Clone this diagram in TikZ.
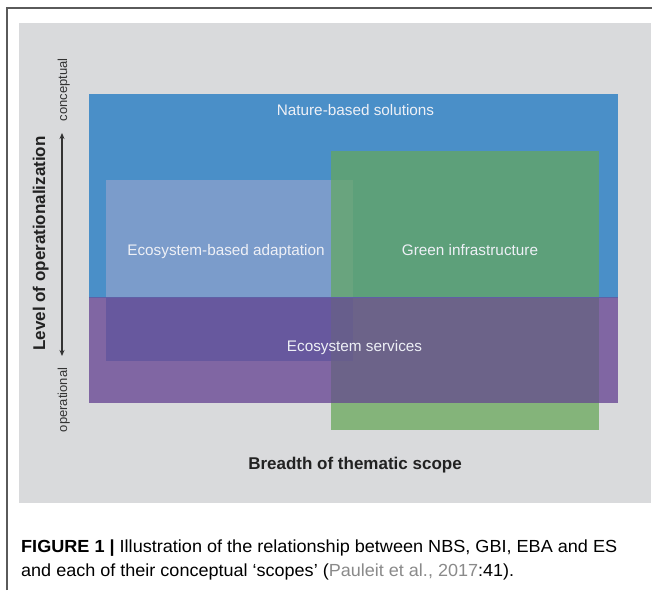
\documentclass[tikz,border=0pt]{standalone}
\usepackage{fontspec}
\setmainfont{Liberation Sans}
\usetikzlibrary{arrows.meta}
\definecolor{framecol}{HTML}{5A5A5A}
\definecolor{panel}{HTML}{D9DADC}
\definecolor{nbscol}{HTML}{4A8FC8}
\definecolor{escol}{HTML}{8066A3}
\definecolor{gigray}{HTML}{84B47A}
\definecolor{giblue}{HTML}{5DA07A}
\definecolor{gies}{HTML}{6C6389}
\definecolor{ebablue}{HTML}{7B9CCB}
\definecolor{ebagi}{HTML}{69A47E}
\definecolor{ebaes}{HTML}{67589E}
\definecolor{ebagies}{HTML}{675E8C}
\definecolor{seam}{HTML}{5F60A6}
\definecolor{labeltxt}{HTML}{EEF0F6}
\definecolor{axistxt}{HTML}{222222}
\definecolor{poletxt}{HTML}{333333}
\definecolor{citecol}{HTML}{8A8A8A}
\begin{document}
\begin{tikzpicture}[x=1pt,y=-1pt,
  lbl/.style={text=labeltxt, font=\fontsize{15.3}{18}\selectfont, inner sep=0, anchor=base},
  axislbl/.style={text=axistxt, font=\bfseries\fontsize{17}{20}\selectfont, inner sep=0, anchor=base},
  pole/.style={text=poletxt, font=\fontsize{13}{15}\selectfont, inner sep=0, anchor=base, rotate=90},
  capline/.style={inner sep=0, anchor=base west, text=black, font=\fontsize{17.5}{22}\selectfont},
  frameline/.style={draw=framecol, line width=1.4pt}]
\useasboundingbox (0,0) rectangle (652,590);
\fill[white] (0,0) rectangle (652,590);
\draw[frameline] (7,590) -- (7,8) -- (652,8);
\fill[panel] (19,23) rectangle (651,503);
% Nature-based solutions and Ecosystem services
\fill[nbscol] (89,94) rectangle (618,297);
\fill[escol] (89,297) rectangle (618,403);
% Green infrastructure
\fill[giblue] (331,151) rectangle (599,297);
\fill[gies] (331,297) rectangle (599,403);
\fill[gigray] (331,403) rectangle (599,430);
% Ecosystem-based adaptation
\fill[ebablue] (106,180) rectangle (331,297);
\fill[ebagi] (331,180) rectangle (353,297);
\fill[ebaes] (106,297) rectangle (331,361);
\fill[ebagies] (331,297) rectangle (353,361);
\draw[seam, line width=0.8pt] (89,297) -- (618,297);
% labels
\node[lbl] (nbs) at (355.5,115.5) {Nature-based solutions};
\node[lbl] (eba) at (226,255) {Ecosystem-based adaptation};
\node[lbl] (gi) at (470,255) {Green infrastructure};
\node[lbl] (es) at (354.5,351) {Ecosystem services};
% axes
\node[axislbl, rotate=90] (level) at (45,243.5) {Level of operationalization};
\node[axislbl] (breadth) at (355,469) {Breadth of thematic scope};
\node[pole] (concept) at (67,90) {conceptual};
\node[pole] (oper) at (67,400) {operational};
\coordinate (atop) at (62,133);
\coordinate (abot) at (62,356);
\draw[draw=poletxt, line width=1.3pt, {Stealth[length=6pt,width=5pt]}-{Stealth[length=6pt,width=5pt]}] (atop) -- (abot);
% caption
\node[capline] (cap1) at (21,552) {\resizebox{596pt}{\height}{\textbf{FIGURE 1 |} Illustration of the relationship between NBS, GBI, EBA and ES}};
\node[capline] (cap2) at (21,576) {\resizebox{493pt}{\height}{and each of their conceptual `scopes' (\textcolor{citecol}{Pauleit et al., 2017}:41).}};
\end{tikzpicture}
\end{document}
